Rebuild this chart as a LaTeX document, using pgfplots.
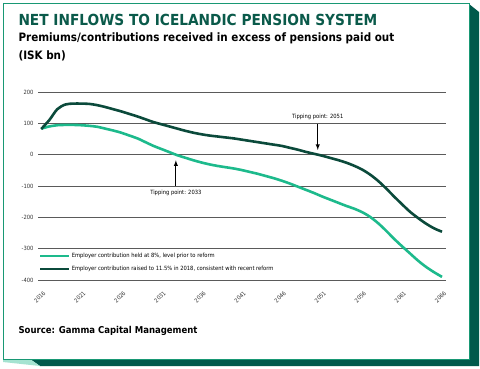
\documentclass[border=0pt]{standalone}
\usepackage{pgfplots}
\pgfplotsset{compat=1.18}
\usepackage{fontspec}
\setmainfont{DejaVu Sans Condensed}
\definecolor{lightg}{HTML}{1DBA8C}
\definecolor{darkg}{HTML}{0B4A3B}
\definecolor{frameg}{HTML}{00594C}
\definecolor{titleg}{HTML}{0A5A4A}
\definecolor{gridc}{HTML}{5A5A5A}
\begin{document}
\begin{tikzpicture}[x=1bp,y=1bp]
% canvas
\path[fill=white] (0,0) rectangle (480,368);
% shadow
\fill[frameg] (469,364) -- (479,356) -- (479,2) -- (40,2) -- (30,9) -- (469,9) -- cycle;
\fill[lightg!40] (3,9) -- (30,9) -- (40,2) -- (3,6) -- cycle;
\draw[lightg!70!darkg, line width=0.8bp, fill=white] (3,9) rectangle (469,365);
% titles
\node[anchor=west, text=titleg, font=\fontsize{15.3}{16}\selectfont\bfseries] at (15,348) {NET INFLOWS TO ICELANDIC PENSION SYSTEM};
\node[anchor=west, font=\fontsize{11.6}{12}\selectfont\bfseries] at (15,330) {Premiums/contributions received in excess of pensions paid out};
\node[anchor=west, font=\fontsize{11.6}{12}\selectfont\bfseries] at (15,312) {(ISK bn)};
\node[anchor=west, font=\fontsize{9.5}{10}\selectfont\bfseries] at (15,37) {Source: Gamma Capital Management};
\begin{axis}[
  at={(38bp,88bp)}, anchor=south west,
  scale only axis, width=408bp, height=188bp,
  xmin=2015.6, xmax=2066.5, ymin=-400, ymax=200,
  axis line style={draw=none},
  ytick={-400,-300,...,200},
  xtick={2016,2021,...,2066},
  ymajorgrids, grid style={gridc, line width=0.9bp},
  major tick length=0pt,
  tick label style={font=\fontsize{5.8}{6}\selectfont, text=black!80},
  yticklabel style={xshift=-1bp},
  xticklabel style={rotate=45, anchor=east, xshift=-3bp, yshift=-11bp},
  /pgf/number format/1000 sep={},
  /pgf/number format/assume math mode=true,
  legend style={at={(0.0,0.025)}, anchor=south west, draw=none, fill=none,
    font=\fontsize{5.8}{6}\selectfont, row sep=3.5bp, inner sep=1bp},
  legend cell align=left,
  legend image code/.code={\draw[#1] (0bp,0bp) -- (28bp,0bp);},
  clip=false,
]
\addplot[lightg, line width=2.6bp, smooth] coordinates {
(2016,83) (2017,90) (2018,94) (2019,95) (2020,95) (2021,94) (2022,92) (2023,89)
(2024,83) (2025,77) (2026,70) (2027,61) (2028,52) (2029,40) (2030,28) (2031,18)
(2032,8) (2033,-2) (2034,-10) (2035,-18) (2036,-25) (2037,-31) (2038,-36) (2039,-40)
(2040,-44) (2041,-49) (2042,-55) (2043,-61) (2044,-68) (2045,-75) (2046,-83) (2047,-92)
(2048,-102) (2049,-112) (2050,-122) (2051,-133) (2052,-143) (2053,-153) (2054,-163)
(2055,-172) (2056,-183) (2057,-198) (2058,-218) (2059,-242) (2060,-268) (2061,-292)
(2062,-315) (2063,-338) (2064,-358) (2065,-375) (2066,-390)};
\addlegendentry{Employer contribution held at 8\%, level prior to reform}
\addplot[darkg, line width=2.6bp, smooth] coordinates {
(2016,82) (2017,110) (2018,145) (2019,160) (2020,163) (2021,163) (2022,162) (2023,158)
(2024,152) (2025,145) (2026,138) (2027,130) (2028,122) (2029,113) (2030,104) (2031,97)
(2032,90) (2033,83) (2034,76) (2035,70) (2036,65) (2037,61) (2038,58) (2039,55)
(2040,52) (2041,48) (2042,44) (2043,40) (2044,36) (2045,32) (2046,28) (2047,22)
(2048,16) (2049,9) (2050,3) (2051,-3) (2052,-10) (2053,-17) (2054,-25) (2055,-35)
(2056,-47) (2057,-63) (2058,-83) (2059,-107) (2060,-133) (2061,-158) (2062,-182)
(2063,-202) (2064,-220) (2065,-235) (2066,-246)};
\addlegendentry{Employer contribution raised to 11.5\% in 2018, consistent with recent reform}
\draw[-{latex}, line width=0.9bp] (axis cs:2032.8,-100) -- (axis cs:2032.8,-18);
\node[font=\fontsize{5.8}{6}\selectfont] at (axis cs:2032.8,-122) {Tipping point: 2033};
\draw[-{latex}, line width=0.9bp] (axis cs:2050.5,98) -- (axis cs:2050.5,15);
\node[font=\fontsize{5.8}{6}\selectfont] at (axis cs:2050.5,122) {Tipping point: 2051};
\end{axis}
\end{tikzpicture}
\end{document}
